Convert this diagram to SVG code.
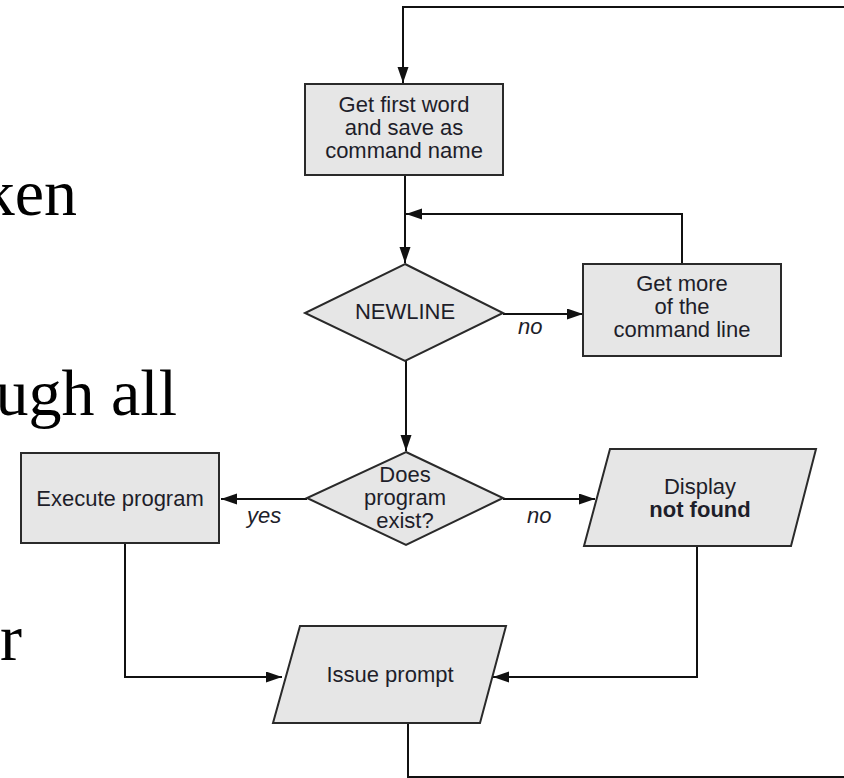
<svg xmlns="http://www.w3.org/2000/svg" width="844" height="778" viewBox="0 0 844 778">
<defs>
<marker id="arr" markerUnits="userSpaceOnUse" markerWidth="17" markerHeight="12" refX="16" refY="5.5" orient="auto">
<path d="M0,0 L16,5.5 L0,11 z" fill="#111"/>
</marker>
<style>
.shape{fill:#e6e6e6;stroke:#2a2a2a;stroke-width:2}
.lbl{font-family:"Liberation Sans",Arial,sans-serif;font-size:22px;fill:#1e1e2a;text-anchor:middle}
.it{font-family:"Liberation Sans",Arial,sans-serif;font-size:22px;font-style:italic;fill:#1e1e2a}
.bg{font-family:"Liberation Serif","Times New Roman",serif;font-size:66px;fill:#000;text-anchor:end}
.con{fill:none;stroke:#111;stroke-width:2}
</style>
</defs>
<rect width="844" height="778" fill="#fff"/>
<g id="slide-text">
<text class="bg" x="77" y="215">ken</text>
<text class="bg" x="177" y="415">ugh all</text>
<text class="bg" x="22" y="660">r</text>
</g>
<g id="connectors">
<path class="con" d="M844,7 H403 V83" marker-end="url(#arr)"/>
<path class="con" d="M405,175 V263" marker-end="url(#arr)"/>
<path class="con" d="M682,264 V214 H406" marker-end="url(#arr)"/>
<path class="con" d="M503,314 H583" marker-end="url(#arr)"/>
<path class="con" d="M406,361 V451" marker-end="url(#arr)"/>
<path class="con" d="M307,499 H221" marker-end="url(#arr)"/>
<path class="con" d="M503,499 H595" marker-end="url(#arr)"/>
<path class="con" d="M125,543 V677 H282" marker-end="url(#arr)"/>
<path class="con" d="M697,546 V677 H493" marker-end="url(#arr)"/>
<path class="con" d="M408,723 V777 H844"/>
<text class="it" x="518" y="334">no</text>
<text class="it" x="247" y="523">yes</text>
<text class="it" x="527" y="523">no</text>
</g>
<g id="get-first-word">
<rect class="shape" x="305" y="84" width="198" height="91"/>
<text class="lbl" x="404" y="112">Get first word</text>
<text class="lbl" x="404" y="135">and save as</text>
<text class="lbl" x="404" y="158">command name</text>
</g>
<g id="newline">
<polygon class="shape" points="405,264 503,313 405,361 305,313"/>
<text class="lbl" x="405" y="319">NEWLINE</text>
</g>
<g id="get-more">
<rect class="shape" x="583" y="264" width="198" height="92"/>
<text class="lbl" x="682" y="291">Get more</text>
<text class="lbl" x="682" y="314">of the</text>
<text class="lbl" x="682" y="337">command line</text>
</g>
<g id="program-exists">
<polygon class="shape" points="406,452 503,498 406,545 307,498"/>
<text class="lbl" x="405" y="482">Does</text>
<text class="lbl" x="405" y="505">program</text>
<text class="lbl" x="405" y="528">exist?</text>
</g>
<g id="execute-program">
<rect class="shape" x="21" y="453" width="198" height="90"/>
<text class="lbl" x="120" y="506">Execute program</text>
</g>
<g id="display-not-found">
<polygon class="shape" points="610,449 816,449 791,546 584,546"/>
<text class="lbl" x="700" y="494">Display</text>
<text class="lbl" x="700" y="517" font-weight="bold">not found</text>
</g>
<g id="issue-prompt">
<polygon class="shape" points="300,626 506,626 480,723 273,723"/>
<text class="lbl" x="390" y="682">Issue prompt</text>
</g>
</svg>
